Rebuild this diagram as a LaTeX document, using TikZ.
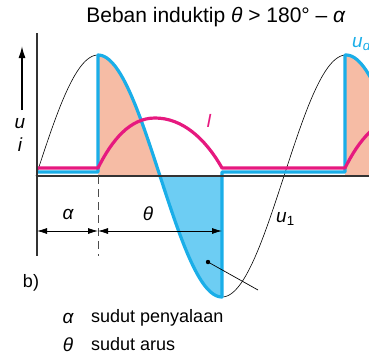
\documentclass[tikz,border=0pt]{standalone}
\usepackage{fontspec}
\setmainfont{Liberation Sans}
\usetikzlibrary{arrows.meta}
\definecolor{udblue}{HTML}{1AAEE8}
\definecolor{bluefill}{HTML}{6DCDF3}
\definecolor{pinkfill}{HTML}{F6BCA5}
\definecolor{curmag}{HTML}{E6197F}
\definecolor{axisgray}{HTML}{333333}
\tikzset{
  declare function={sn(\x)=176-121*sin((\x-36)*1.451613);},
  udline/.style={udblue,line width=3.2pt,line join=round},
  curline/.style={curmag,line width=3.2pt,line join=round},
  axisline/.style={axisgray,line width=1.8pt},
  dimline/.style={black,line width=0.8pt,{Latex[length=10pt,width=6pt]}-{Latex[length=10pt,width=6pt]}},
  lbl/.style={font=\fontsize{19}{21}\selectfont\itshape,inner sep=0pt},
  txt/.style={font=\fontsize{18}{21}\selectfont,inner sep=0pt}
}
\begin{document}
\begin{tikzpicture}[x=1pt,y=-1pt]
\useasboundingbox (0,0) rectangle (369,360);
\begin{scope}
\clip (0,0) rectangle (369,360);
% fills
\fill[pinkfill] (98,176) -- plot[domain=98:160,samples=40] (\x,{sn(\x)}) -- (160,176) -- cycle;
\fill[bluefill] (160,176) -- plot[domain=160:222,samples=40] (\x,{sn(\x)}) -- (222,176) -- cycle;
\fill[pinkfill] (345,176) -- plot[domain=345:372,samples=20] (\x,{sn(\x)}) -- (372,176) -- cycle;
% thin sine u1
\draw[black,line width=0.6pt] plot[domain=36:372,samples=200] (\x,{sn(\x)});
% u_d
\draw[udline] (37,172) -- (98,172) -- (98,{sn(98)}) -- plot[domain=98:222,samples=60] (\x,{sn(\x)}) -- (222,172) -- (345,172) -- (345,{sn(345)}) -- plot[domain=345:372,samples=20] (\x,{sn(\x)});
% current I
\draw[curline] (37,168) -- (98,168) .. controls (112,140) and (130,118) .. (155,118) .. controls (182,118) and (205,138) .. (222,168) -- (345,168) .. controls (359,140) and (377,118) .. (402,118);
\end{scope}
% axes
\draw[axisline] (37,33) coordinate (ytop) -- (37,256) coordinate (ybot);
\draw[axisline] (37,176) coordinate (o) -- (369,176) coordinate (xend);
% dashed firing line
\coordinate (fa) at (98,176);
\coordinate (fb) at (98,256);
\draw[black!70,line width=0.9pt,dash pattern=on 8pt off 5pt] (fa) -- (fb);
% dimension lines
\coordinate (d0) at (37,231);
\coordinate (d1) at (98,231);
\coordinate (d2) at (222,231);
\draw[dimline] (d0) -- (d1);
\draw[dimline] (d1) -- (d2);
\node[lbl] (alab) at (68,214) {α};
\node[lbl] (tlab) at (148,214) {θ};
% u i labels and arrow
\node[lbl] (ulab) at (20,124) {u};
\node[lbl] (ilab) at (20,145) {i};
\coordinate (ua0) at (22,110);
\coordinate (ua1) at (22,46);
\draw[black,line width=1.5pt,-{Latex[length=12pt,width=7pt]}] (ua0) -- (ua1);
% I label
\node[lbl,text=curmag] (Ilab) at (209,121) {I};
% u1 label
\node[lbl,anchor=west] (u1lab) at (276,219) {u\textsubscript{\normalfont 1}};
% ud label
\node[lbl,anchor=west,text=udblue] (udlab) at (352,44) {u\textsubscript{d}};
% pointer
\coordinate (pdot) at (208,262);
\coordinate (pend) at (258,290);
\fill (pdot) circle (2.2pt);
\draw[black,line width=0.7pt] (pdot) -- (pend);
% b)
\node[txt] (blab) at (31,283) {b)};
% title
\node[font=\fontsize{21}{24}\selectfont,inner sep=0pt] (title) at (216,17) {Beban induktip \textit{θ} > 180° – \textit{α}};
% legend
\node[lbl] (la) at (68,318) {α};
\node[txt,anchor=west] (lat) at (91,318) {sudut penyalaan};
\node[lbl] (lt) at (68,345) {θ};
\node[txt,anchor=west] (ltt) at (91,344) {sudut arus};
\end{tikzpicture}
\end{document}
